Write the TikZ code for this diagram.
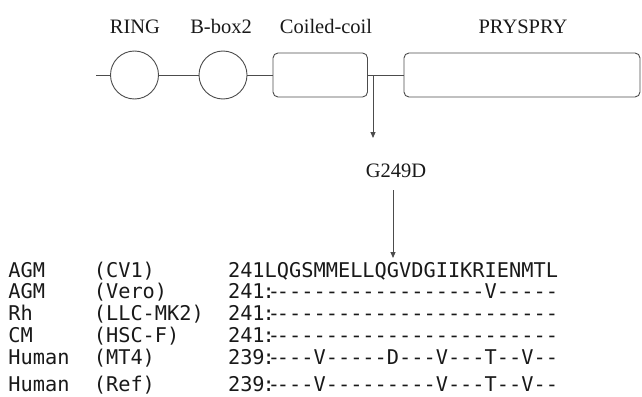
\documentclass[tikz,border=0pt]{standalone}
\usepackage{fontspec}
\setmainfont{Liberation Serif}
\setmonofont{DejaVu Sans Mono}
\usetikzlibrary{arrows.meta}

% colon with a short dash in one cell
\newcommand\gapc{\makebox[0.602em][l]{\kern-0.1em:\kern-0.35em-}}

\begin{document}
\begin{tikzpicture}[x=1pt,y=-1pt,line width=0.9pt,
    dom/.style={draw=black!70,inner sep=0pt},
    lab/.style={anchor=base,inner sep=0pt,text=black!90,font=\fontsize{20.5}{24}\selectfont},
    seq/.style={anchor=base west,inner sep=0pt,text=black!90,font=\ttfamily\fontsize{20.3}{24}\selectfont},
    arr/.style={-{Triangle[length=6pt,width=5pt]},draw=black!70}]
  \useasboundingbox (0,0) rectangle (642,396);
  % domains
  \node[dom,circle,minimum size=48pt] (ring) at (134.5,75) {};
  \node[dom,circle,minimum size=48pt] (bbox) at (223,75) {};
  \node[dom,rounded corners=5pt,minimum width=94.5pt,minimum height=44pt] (coil) at (320.25,75) {};
  \node[dom,rounded corners=5pt,minimum width=236pt,minimum height=44pt] (pry) at (522,75) {};
  \coordinate (start) at (96,75);
  \coordinate (junc) at (373,75);
  \draw[black!70] (start) -- (ring) -- (bbox) -- (coil) -- (pry);
  \node[lab] (ringl) at (135,34) {RING};
  \node[lab] (bboxl) at (221,34) {B-box2};
  \node[lab] (coill) at (326,34) {Coiled-coil};
  \node[lab] (pryl) at (523,34) {PRYSPRY};
  % mutation
  \node[lab] (mut) at (396,177) {G249D};
  \coordinate (tipa) at (373,138);
  \coordinate (taila) at (393,190);
  \coordinate (tipb) at (393,258);
  \draw[arr] (junc) -- (tipa);
  \draw[arr] (taila) -- (tipb);
  % alignment
  \foreach \y/\spc/\strain/\first/\res [count=\i] in {
      277/AGM/(CV1)/241/LQGSMMELLQGVDGIIKRIENMTL,
      298/AGM/(Vero)/241/\gapc-----------------V-----,
      320/Rh/(LLC-MK2)/241/\gapc-----------------------,
      342/CM/(HSC-F)/241/\gapc-----------------------,
      364/Human/(MT4)/239/\gapc---V-----D---V---T--V--,
      391/Human/(Ref)/239/\gapc---V---------V---T--V--}
  {
    \node[seq] (sp\i) at (8,\y) {\spc};
    \node[seq] (cl\i) at (93.4,\y) {\strain};
    \node[seq] (res\i) at (227.6,\y) {\first\res};
  }
\end{tikzpicture}
\end{document}
